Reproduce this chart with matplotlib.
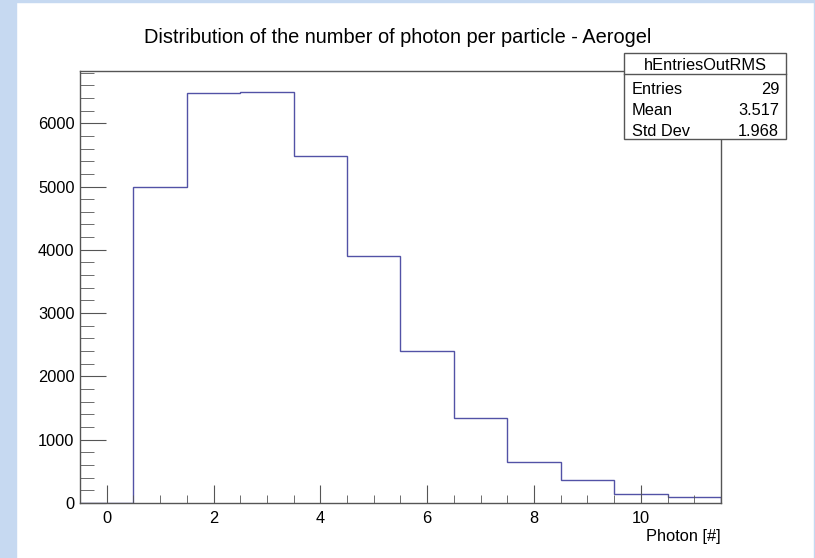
import numpy as np
import matplotlib
matplotlib.use("Agg")
import matplotlib.pyplot as plt
from matplotlib.patches import Rectangle
from matplotlib.lines import Line2D

# histogram data (bin centres 0..11, width 1)
bin_edges = np.arange(-0.5, 12.0, 1.0)
counts = [0, 5000, 6470, 6500, 5480, 3900, 2405, 1340, 653, 357, 142, 90]

title = "Distribution of the number of photon per particle - Aerogel"
xlabel = "Photon [#]"
stats_name = "hEntriesOutRMS"
stats_rows = [("Entries", "29"), ("Mean", "3.517"), ("Std Dev", "1.968")]

plt.rcParams['font.family'] = ['Liberation Sans', 'DejaVu Sans']

W, H = 815, 558
fig = plt.figure(figsize=(W / 100, H / 100), dpi=100)

# light blue border of the screenshot
bcol = '#c6d9f1'
fig.patches.append(Rectangle((0, 0), 16 / W, 1, transform=fig.transFigure, color=bcol, zorder=0))
fig.patches.append(Rectangle((0, 1 - 2 / H), 1, 2 / H, transform=fig.transFigure, color=bcol, zorder=0))
fig.patches.append(Rectangle((1 - 1.5 / W, 0), 1.5 / W, 1, transform=fig.transFigure, color=bcol, zorder=0))

# axes frame in pixels: x 80..721, y 71..503
ax = fig.add_axes([80 / W, (H - 503) / H, 641 / W, 432 / H])
ax.stairs(counts, bin_edges, color='#5252a6', lw=1.0, baseline=0)

ymax = 1.05 * max(counts)
ax.set_xlim(-0.5, 11.5)
ax.set_ylim(0, ymax)

ax.set_xticks(np.arange(0, 11, 2))
ax.set_xticks(np.arange(-0.5, 11.6, 0.5), minor=True)
ax.set_yticks(np.arange(0, 7000, 1000))
ax.set_yticks(np.arange(0, ymax, 200), minor=True)

fs = 11.8
for s in ax.spines.values():
    s.set_color('#555555')
    s.set_linewidth(1.0)
ax.tick_params(axis='both', which='both', direction='in', colors='#555555',
               labelcolor='black', labelsize=fs, top=False, right=False)
ax.tick_params(axis='y', which='major', length=19, pad=4)
ax.tick_params(axis='y', which='minor', length=10)
ax.tick_params(axis='x', which='major', length=13, pad=6)
ax.tick_params(axis='x', which='minor', length=6)

fig.text(398 / W, 1 - 43 / H, title, ha='center', va='baseline', fontsize=14.4)
fig.text(721 / W, 1 - 541 / H, xlabel, ha='right', va='baseline', fontsize=fs)

# stats box
bx0, bx1, by0, by1 = 624, 786, 53, 139
fig.patches.append(Rectangle((bx0 / W, 1 - by1 / H), (bx1 - bx0) / W, (by1 - by0) / H,
                             transform=fig.transFigure, facecolor='white',
                             edgecolor='#555555', lw=1.0, zorder=5))
fig.lines.append(Line2D([bx0 / W, bx1 / W], [1 - 74 / H, 1 - 74 / H],
                        transform=fig.transFigure, color='#555555', lw=1.0, zorder=6))
fig.text((bx0 + bx1) / 2 / W, 1 - 69.5 / H, stats_name, ha='center', va='baseline',
         fontsize=fs, zorder=7)
for i, (k, v) in enumerate(stats_rows):
    y = 1 - (93.5 + 21.5 * i) / H
    fig.text(632 / W, y, k, ha='left', va='baseline', fontsize=fs, zorder=7)
    fig.text(779 / W, y, v, ha='right', va='baseline', fontsize=fs, zorder=7)

fig.savefig('out.png', dpi=100)
